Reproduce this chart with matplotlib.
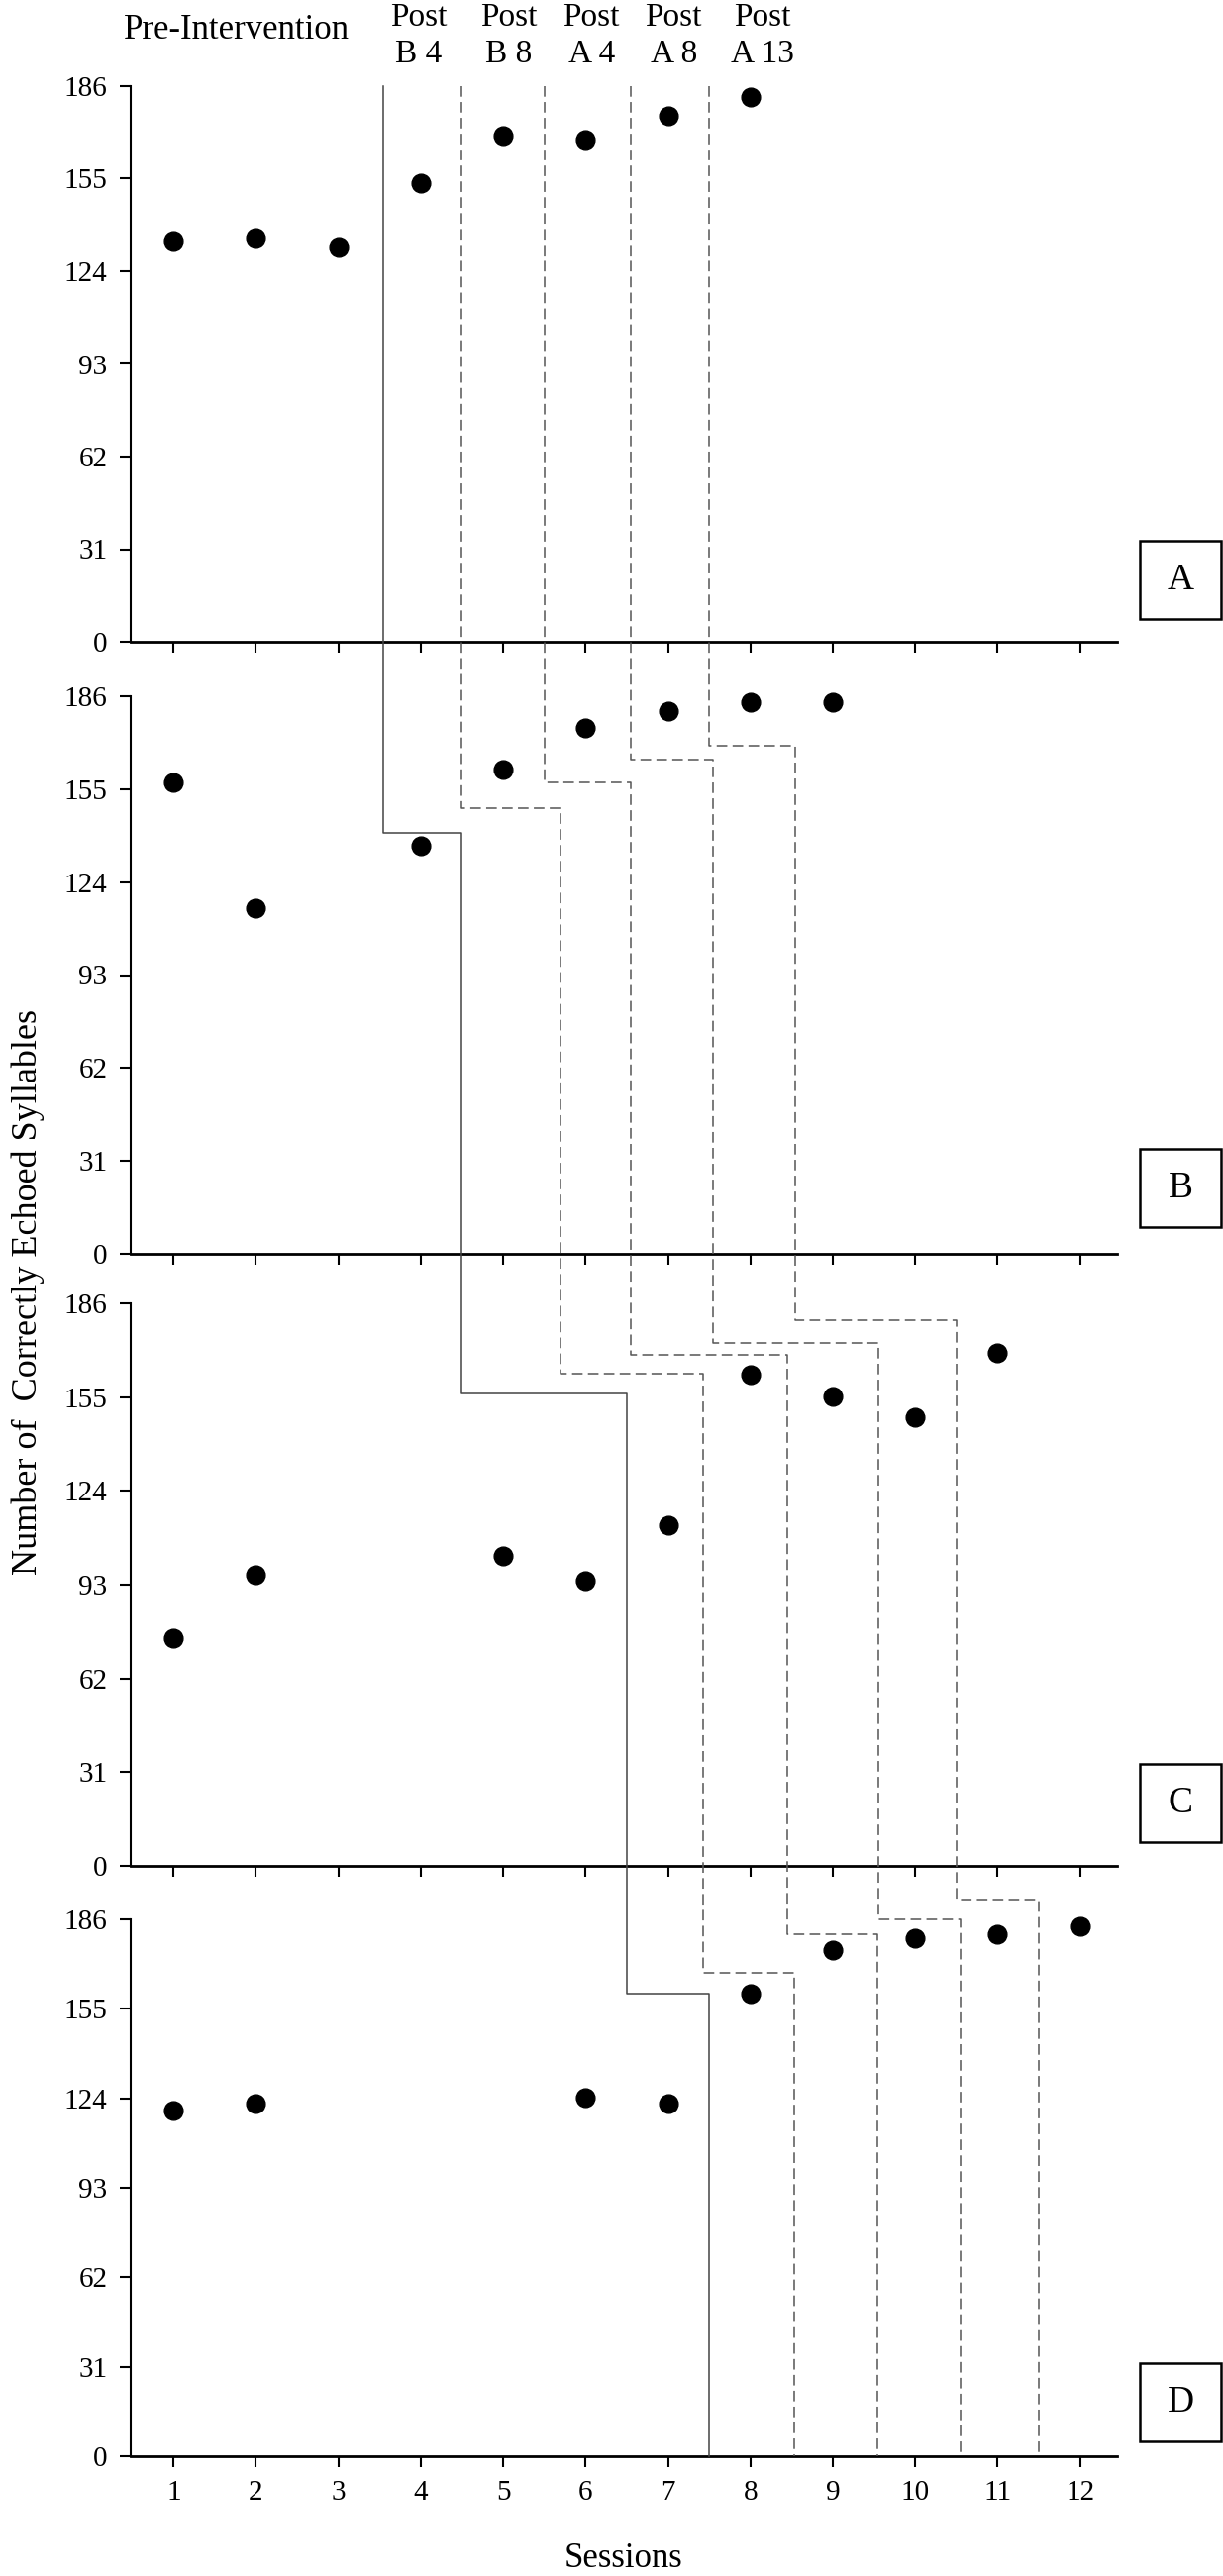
import matplotlib.pyplot as plt
import matplotlib.transforms as mtransforms
from matplotlib.lines import Line2D
from matplotlib.patches import Rectangle

plt.rcParams['font.family'] = ['Liberation Serif', 'DejaVu Serif']

# ---------------------------------------------------------------
# Data: correctly echoed syllables per session, one list per panel
# ---------------------------------------------------------------
sessions = list(range(1, 13))
yticks = [0, 31, 62, 93, 124, 155, 186]
panel_names = ['A', 'B', 'C', 'D']

sess_a = [1, 2, 3, 4, 5, 6, 7, 8]
vals_a = [134.2, 135.2, 132.3, 153.4, 169.4, 168.2, 176.1, 182.4]

sess_b = [1, 2, 4, 5, 6, 7, 8, 9]
vals_b = [157.3, 115.4, 136.0, 161.4, 175.4, 181.0, 184.1, 184.1]

sess_c = [1, 2, 5, 6, 7, 8, 9, 10, 11]
vals_c = [75.2, 96.2, 102.4, 94.2, 112.6, 162.3, 155.3, 148.4, 169.5]

sess_d = [1, 2, 6, 7, 8, 9, 10, 11, 12]
vals_d = [119.9, 122.1, 124.4, 122.1, 160.2, 175.3, 179.6, 180.7, 183.5]

panel_sessions = [sess_a, sess_b, sess_c, sess_d]
panel_values = [vals_a, vals_b, vals_c, vals_d]

# phase-change lines: x where the line sits in A/B, C, D (and end in D),
# and the step height in B, C, D
solid_x = [3.55, 4.5, 6.5, 7.5]
solid_y = [140.5, 156.2, 160.2]
dash1_x = [4.5, 5.7, 7.43, 8.53]
dash1_y = [148.7, 162.6, 167.3]
dash2_x = [5.5, 6.55, 8.45, 9.54]
dash2_y = [157.4, 168.9, 180.7]
dash3_x = [6.55, 7.55, 9.55, 10.55]
dash3_y = [164.8, 172.8, 186.0]
dash4_x = [7.5, 8.55, 10.5, 11.5]
dash4_y = [169.6, 180.3, 192.7]

# header labels above panel A
header_top = ['Post', 'Post', 'Post', 'Post', 'Post']
header_bottom = ['B 4', 'B 8', 'A 4', 'A 8', 'A 13']
header_x = [3.97, 5.07, 6.07, 7.07, 8.15]

# ---------------------------------------------------------------
# Layout (pixels of the final 1235x2601 image)
# ---------------------------------------------------------------
W, H = 1235, 2601
left_px, right_px = 132, 1128
panel_px = [(87, 648), (703, 1266), (1316, 1884), (1938, 2480)]
box_bottom_px = [625, 1239, 1860, 2465]

fig = plt.figure(figsize=(W / 100, H / 100), dpi=100)

axes = []
for i, (top, bot) in enumerate(panel_px):
    ax = fig.add_axes([left_px / W, 1 - bot / H,
                       (right_px - left_px) / W, (bot - top) / H])
    ax.set_xlim(0.48, 12.45)
    ax.set_ylim(0, 186)
    ax.set_xticks(sessions)
    ax.set_yticks(yticks)
    for side in ['top', 'right']:
        ax.spines[side].set_visible(False)
    ax.spines['left'].set_linewidth(1.5)
    ax.spines['bottom'].set_linewidth(2.0)
    ax.tick_params(direction='out', length=8, width=1.5, labelsize=21, pad=9)
    if i < 3:
        ax.tick_params(axis='x', labelbottom=False)
    ax.plot(panel_sessions[i], panel_values[i], 'o', color='black',
            ms=13.5, clip_on=False, zorder=5)

    # panel letter box
    b = box_bottom_px[i]
    fig.add_artist(Rectangle((1151 / W, 1 - b / H), 82 / W, 79 / H,
                             transform=fig.transFigure, fill=False,
                             lw=1.8, edgecolor='black'))
    fig.text(1192 / W, 1 - (b - 39.5) / H, panel_names[i], fontsize=27,
             ha='center', va='center')
    axes.append(ax)


def to_fig(ax, x, y):
    return fig.transFigure.inverted().transform(ax.transData.transform((x, y)))


dashed = dict(color='#555555', lw=1.1, linestyle=(0, (7, 3.5)))
phases = [
    (solid_x, solid_y, dict(color='#444444', lw=1.1, linestyle='-')),
    (dash1_x, dash1_y, dashed),
    (dash2_x, dash2_y, dashed),
    (dash3_x, dash3_y, dashed),
    (dash4_x, dash4_y, dashed),
]
for xs, ys, style in phases:
    pts = [to_fig(axes[0], xs[0], 186)]
    for k in range(3):
        pts.append(to_fig(axes[k + 1], xs[k], ys[k]))
        pts.append(to_fig(axes[k + 1], xs[k + 1], ys[k]))
    pts.append(to_fig(axes[3], xs[3], 0))
    fig.add_artist(Line2D([p[0] for p in pts], [p[1] for p in pts],
                          transform=fig.transFigure, **style))

# header texts
hdr = mtransforms.blended_transform_factory(axes[0].transData, fig.transFigure)
fig.text(1.76, 1 - 39 / H, 'Pre-Intervention', transform=hdr, fontsize=25,
         ha='center', va='baseline')
for x, t1, t2 in zip(header_x, header_top, header_bottom):
    fig.text(x, 1 - 26 / H, t1, transform=hdr, fontsize=24,
             ha='center', va='baseline')
    fig.text(x, 1 - 63 / H, t2, transform=hdr, fontsize=24,
             ha='center', va='baseline')

fig.text(28 / W, 1 - 1305 / H, 'Number of  Correctly Echoed Syllables',
         rotation=90, fontsize=26, ha='center', va='center')
fig.text(630 / W, 1 - 2583 / H, 'Sessions', fontsize=25,
         ha='center', va='center')

fig.savefig('out.png', dpi=100)
